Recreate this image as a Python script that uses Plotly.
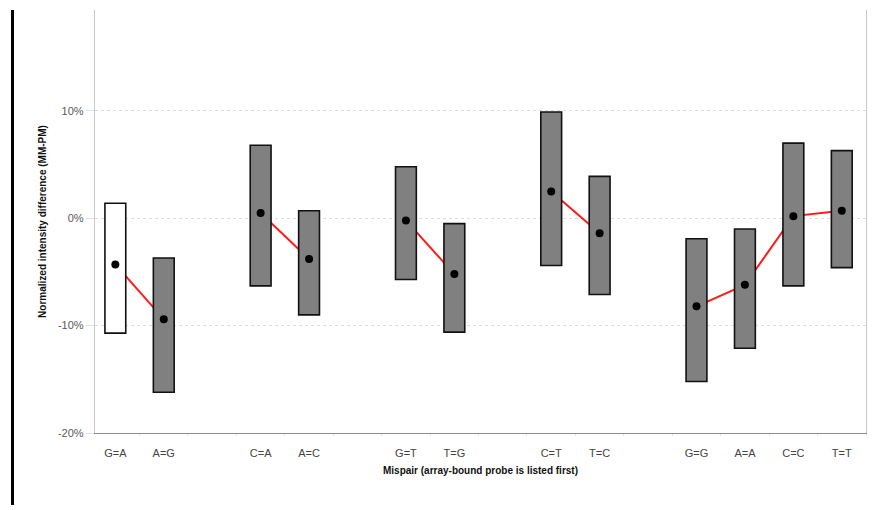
import plotly.graph_objects as go

# Mispair categories, laid out in groups with blank slots between groups
categories = ["G=A", "A=G", "C=A", "A=C", "G=T", "T=G", "C=T", "T=C", "G=G", "A=A", "C=C", "T=T"]
positions = [0, 1, 3, 4, 6, 7, 9, 10, 12, 13, 14, 15]
groups = [0, 0, 1, 1, 2, 2, 3, 3, 4, 4, 4, 4]

# Normalized intensity difference (MM-PM), in percent
box_high = [1.4, -3.7, 6.8, 0.7, 4.8, -0.5, 9.9, 3.9, -1.9, -1.0, 7.0, 6.3]
box_low = [-10.7, -16.2, -6.3, -9.0, -5.7, -10.6, -4.4, -7.1, -15.2, -12.1, -6.3, -4.6]
mean_val = [-4.3, -9.4, 0.5, -3.8, -0.2, -5.2, 2.5, -1.4, -8.2, -6.2, 0.2, 0.7]
box_fill = ["#ffffff"] + ["#808080"] * 11

y_ticks = [-20, -10, 0, 10]
x_range = [-0.42, 15.5]
y_range = [-20, 19.4]

# Red connector lines through the means within each group (broken between groups)
line_x, line_y = [], []
for i, (p, m, g) in enumerate(zip(positions, mean_val, groups)):
    if i > 0 and g != groups[i - 1]:
        line_x.append(None)
        line_y.append(None)
    line_x.append(p)
    line_y.append(m)

fig = go.Figure()

# connectors on the base axes so the boxes sit on top of them
fig.add_trace(go.Scatter(
    x=line_x, y=line_y, mode="lines",
    line=dict(color="#ff1a1a", width=2),
    xaxis="x", yaxis="y", hoverinfo="skip", showlegend=False,
))

# range boxes
fig.add_trace(go.Bar(
    x=positions,
    y=[h - l for h, l in zip(box_high, box_low)],
    base=box_low,
    width=0.43,
    marker=dict(color=box_fill, line=dict(color="#111111", width=1.6)),
    xaxis="x2", yaxis="y2", showlegend=False,
))

# mean markers
fig.add_trace(go.Scatter(
    x=positions, y=mean_val, mode="markers",
    marker=dict(color="black", size=8),
    xaxis="x2", yaxis="y2", showlegend=False,
))

font_family = "Liberation Sans, Arial, sans-serif"

fig.update_layout(
    width=872, height=510,
    margin=dict(l=95, r=6, t=10, b=77),
    paper_bgcolor="white", plot_bgcolor="white",
    font=dict(family=font_family, size=11, color="#444444"),
    xaxis=dict(
        range=x_range, tickvals=positions, ticktext=categories,
        showgrid=False, zeroline=False,
        showline=True, linecolor="#8c8c8c", linewidth=1.3,
        ticks="outside", ticklen=10, tickcolor="rgba(0,0,0,0)",
        minor=dict(ticks="outside", ticklen=2, tickcolor="#e4e4e4",
                   tick0=0.5, dtick=1, showgrid=False),
        tickfont=dict(size=11, color="#444444"),
        title=dict(text="<b>Mispair (array-bound probe is listed first)</b>",
                   font=dict(size=10, color="#111111"), standoff=8),
    ),
    yaxis=dict(
        range=y_range, tickvals=y_ticks,
        ticktext=[f"{v}%" for v in y_ticks],
        showgrid=True, gridcolor="#dcdcdc", griddash="dot", gridwidth=1,
        zeroline=False,
        showline=True, mirror=True, linecolor="#c8c8c8", linewidth=1.3,
        ticks="outside", ticklen=8, tickcolor="#e2e2e2",
        tickfont=dict(size=11, color="#5a5a5a"),
        title=dict(text="<b>Normalized intensity difference (MM-PM)</b>",
                   font=dict(size=10, color="#111111"), standoff=9),
    ),
    xaxis2=dict(range=x_range, overlaying="x", visible=False),
    yaxis2=dict(range=y_range, overlaying="y", visible=False),
    shapes=[
        dict(type="line", xref="paper", yref="paper",
             x0=-0.107, x1=-0.107, y0=-0.17, y1=1.0,
             line=dict(color="black", width=3)),
    ],
)

fig.write_html("out.html")
